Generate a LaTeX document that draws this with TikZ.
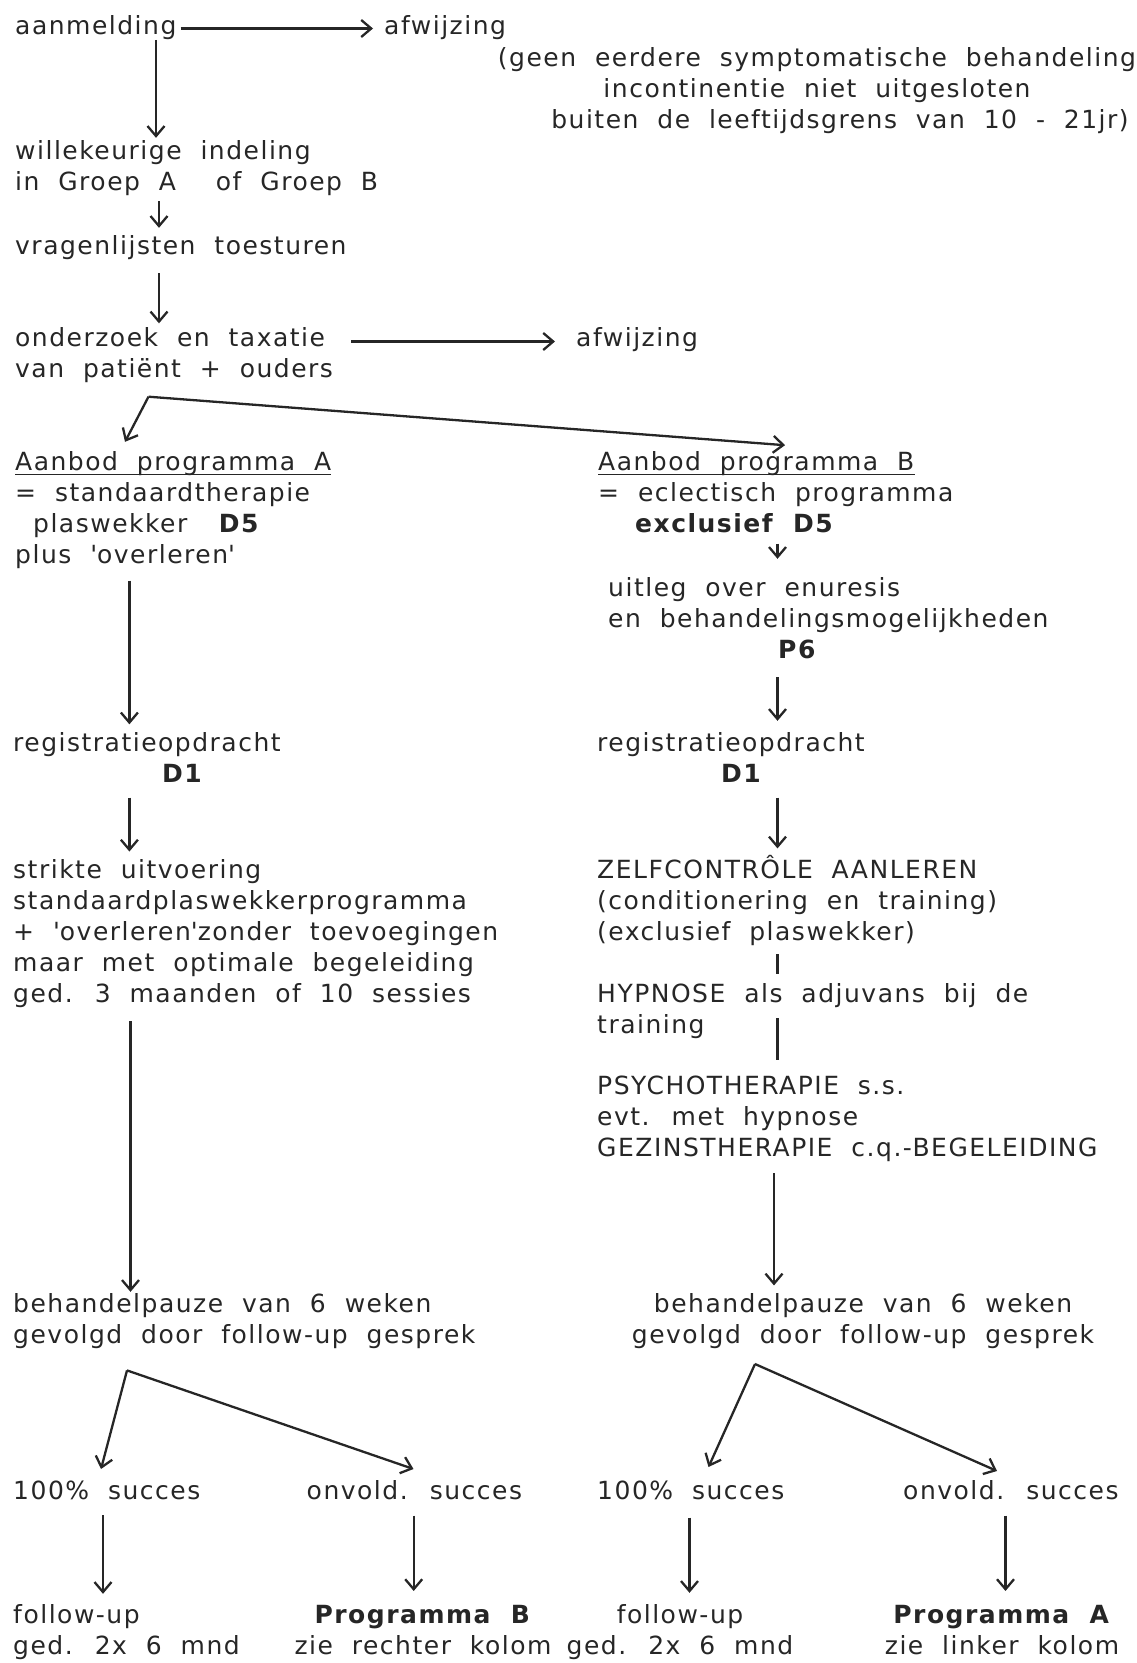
\documentclass[tikz,border=0pt]{standalone}
\usepackage{fontspec}
\setmainfont{DejaVu Sans}[LetterSpace=6,WordSpace=2]
\usetikzlibrary{arrows.meta}
\colorlet{ink}{black!85}

\begin{document}
\begin{tikzpicture}[x=1pt,y=-1pt,>={Straight Barb[length=10pt,width=17pt]},
	font=\fontsize{25}{31}\selectfont,
	txt/.style={anchor=base west,inner sep=0pt,align=left,text=ink},
	ctxt/.style={anchor=base,inner sep=0pt,align=center,text=ink},
	arr/.style={->,line width=2.3pt,draw=ink},
	bar/.style={line width=2.3pt,draw=ink}]
	\useasboundingbox (0,0) rectangle (1136,1663);
	% columns of the vertical connectors
	\coordinate (c0) at (156,0);
	\coordinate (c1) at (159,0);
	\coordinate (cA) at (129.4,0);
	\coordinate (cA2) at (130.5,0);
	\coordinate (cB) at (777.5,0);
	\coordinate (cB2) at (774,0);
	\coordinate (cA3) at (103,0);
	\coordinate (cA4) at (413.7,0);
	\coordinate (cB3) at (689.5,0);
	\coordinate (cB4) at (1005.5,0);
	\coordinate (split1) at (148.5,396.7);
	\coordinate (split2) at (127,1370.4);
	\coordinate (split3) at (755,1364);

	\node [txt] at (15,34.5) (aanm) {aanmelding};
	\node [txt] at (384,34.5) (afw1) {afwijzing};
	\node [ctxt] at (817,128.3) (crit) {(geen eerdere symptomatische behandeling\\incontinentie niet uitgesloten\\\hspace*{46pt}buiten de leeftijdsgrens van 10 - 21jr)};
	\node [txt] at (15,190.6) (indel) {willekeurige indeling\\in Groep A\hspace{21pt} of Groep B};
	\node [txt] at (15,254) (vragen) {vragenlijsten toesturen};
	\node [txt] at (15,377) (onderz) {onderzoek en taxatie\\van patiënt + ouders};
	\node [txt] at (576,346) (afw2) {afwijzing};

	\node [txt] at (15,470.4) (progAh) {Aanbod programma A};
	\node [txt] at (15,563.4) (progA) {= standaardtherapie\\\hspace*{18pt}plaswekker\hspace{30pt}\textbf{D5}\\plus \textquotesingle overleren\textquotesingle};
	\node [txt] at (598,470.4) (progBh) {Aanbod programma B};
	\node [txt] at (598,532.4) (progB) {= eclectisch programma\\\hspace*{37pt}\textbf{exclusief D5}};
	\node [txt] at (608,658.6) (uitleg) {uitleg over enuresis\\en behandelingsmogelijkheden\\\hspace*{170pt}\textbf{P6}};

	\node [txt] at (13,782.5) (regA) {registratieopdracht\\\hspace*{149pt}\textbf{D1}};
	\node [txt] at (597,782.5) (regB) {registratieopdracht\\\hspace*{124pt}\textbf{D1}};

	\node [txt] at (13,1002) (strikt) {strikte uitvoering\\standaardplaswekkerprogramma\\+ \textquotesingle overleren\textquotesingle zonder toevoegingen\\maar met optimale begeleiding\\ged. 3 maanden of 10 sessies};
	\node [txt] at (597,940) (zelf) {ZELFCONTRÔLE AANLEREN\\(conditionering en training)\\(exclusief plaswekker)};
	\node [txt] at (597,1033.6) (hypn) {HYPNOSE als adjuvans bij de\\training};
	\node [txt] at (597,1156) (psych) {PSYCHOTHERAPIE s.s.\\evt. met hypnose\\GEZINSTHERAPIE c.q.-BEGELEIDING};

	\node [txt] at (13,1343.6) (pauzeA) {behandelpauze van 6 weken\\gevolgd door follow-up gesprek};
	\node [ctxt] at (863,1343.6) (pauzeB) {behandelpauze van 6 weken\\gevolgd door follow-up gesprek};

	\node [txt] at (13,1499) (succA) {100\% succes};
	\node [txt] at (306.5,1499) (failA) {onvold. succes};
	\node [txt] at (597,1499) (succB) {100\% succes};
	\node [txt] at (903,1499) (failB) {onvold. succes};

	\node [txt] at (13,1654.4) (fuA) {follow-up\\ged. 2x 6 mnd};
	\node [ctxt] at (423,1654.4) (refB) {\textbf{Programma B}\\zie rechter kolom};
	\node [ctxt] at (680,1654.4) (fuB) {follow-up\\ged. 2x 6 mnd};
	\node [ctxt] at (1002,1654.4) (refA) {\textbf{Programma A}\\zie linker kolom};

	\draw [bar,line width=1.6pt] ([yshift=-4pt]progAh.base west) -- ([yshift=-4pt]progAh.base east);
	\draw [bar,line width=1.6pt] ([yshift=-4pt]progBh.base west) -- ([yshift=-4pt]progBh.base east);

	\draw [arr,shorten <=4pt,shorten >=11pt] ([yshift=6pt]aanm.base east) -- ([yshift=6pt]afw1.base west);
	\draw [arr,shorten >=2.6pt] (aanm.south -| c0) -- (indel.north -| c0);
	\draw [arr,shorten <=5pt,shorten >=7pt] (indel.south -| c1) -- (vragen.north -| c1);
	\draw [arr,shorten <=13.7pt,shorten >=3.5pt] (vragen.south -| c1) -- (onderz.north -| c1);
	\draw [arr,shorten <=18pt,shorten >=21pt] ([yshift=35.5pt]onderz.base east) -- ([yshift=4.5pt]afw2.base west);
	\draw [arr] (split1) -- ([xshift=110pt,yshift=9.4pt]progAh.north west);
	\draw [arr] (split1) -- ([xshift=187pt,yshift=6pt]progBh.north west);

	\draw [arr,shorten <=11.7pt,shorten >=8pt] (progA.south -| cA) -- (regA.north -| cA);
	\draw [arr,shorten <=10.6pt,shorten >=18.6pt] (progB.south -| cB) -- (uitleg.north -| cB);
	\draw [arr,shorten <=18pt,shorten >=11.5pt] (uitleg.south -| cB) -- (regB.north -| cB);
	\draw [arr,shorten <=15pt,shorten >=7.3pt] (regA.south -| cA) -- (strikt.north -| cA);
	\draw [arr,shorten <=15pt,shorten >=6.2pt] (regB.south -| cB) -- (zelf.north -| cB);
	\draw [bar,shorten <=8.7pt,shorten >=9.9pt] (zelf.south -| cB) -- (hypn.north -| cB);
	\draw [bar,shorten <=-15.6pt,shorten >=15pt] (hypn.base -| cB) -- (psych.north -| cB);
	\draw [arr,shorten <=13.6pt,shorten >=1.6pt] (strikt.south -| cA2) -- (pauzeA.north -| cA2);
	\draw [arr,shorten <=12pt,shorten >=8pt] (psych.south -| cB2) -- (pauzeB.north -| cB2);

	\draw [arr] (split2) -- ([xshift=88pt,yshift=30pt]succA.base west);
	\draw [arr] (split2) -- ([xshift=107pt,yshift=30pt]failA.base west);
	\draw [arr] (split3) -- ([xshift=111.5pt,yshift=32pt]succB.base west);
	\draw [arr] (split3) -- ([xshift=94pt,yshift=28pt]failB.base west);

	\draw [arr,shorten <=15.7pt,shorten >=10.4pt] (succA.south -| cA3) -- (fuA.north -| cA3);
	\draw [arr,shorten <=16pt,shorten >=14pt] (failA.south -| cA4) -- (refB.north -| cA4);
	\draw [arr,shorten <=18pt,shorten >=11.4pt] (succB.south -| cB3) -- (fuB.north -| cB3);
	\draw [arr,shorten <=16pt,shorten >=14pt] (failB.south -| cB4) -- (refA.north -| cB4);
\end{tikzpicture}
\end{document}
